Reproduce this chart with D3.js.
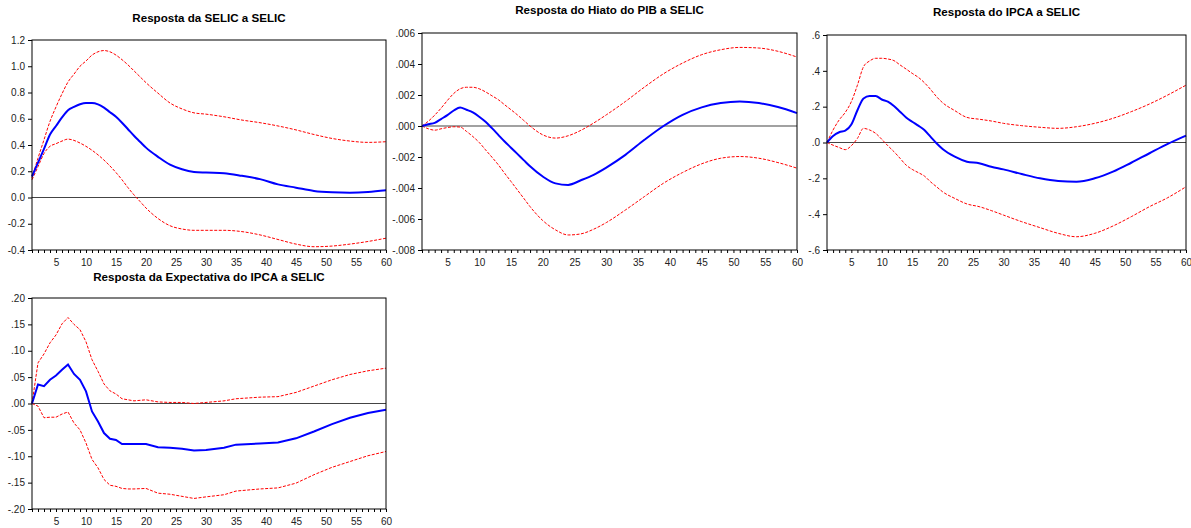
<!DOCTYPE html>
<html>
<head>
<meta charset="utf-8">
<script src="https://cdn.jsdelivr.net/npm/d3@7"></script>
<style>
  body { margin: 0; background: #fff; }
  svg { display: block; font-family: "Liberation Sans", Arial, sans-serif; }
  .axis text { font-size: 10px; fill: #222; }
  .axis path, .axis line { stroke: #000; }
  .title { font-size: 11.6px; font-weight: bold; fill: #000; }
</style>
</head>
<body>
<div id="chart"></div>
<script>
// Resposta ao choque na SELIC (impulso-resposta, 60 periodos)

// SELIC a SELIC
var periodsSelic = [1,2,3,4,5,6,7,8,9,10,11,12,13,14,15,16,17,18,19,20,22,24,26,28,30,33,36,39,42,45,48,51,54,57,60];
var selicResp  = [0.16,0.265,0.37,0.48,0.545,0.61,0.665,0.69,0.71,0.72,0.72,0.71,0.685,0.65,0.615,0.57,0.52,0.47,0.425,0.38,0.31,0.25,0.215,0.195,0.19,0.185,0.165,0.14,0.10,0.075,0.05,0.04,0.037,0.042,0.055];
var selicUpper = [0.15,0.30,0.44,0.58,0.69,0.79,0.88,0.94,1.0,1.04,1.085,1.11,1.12,1.11,1.085,1.05,1.01,0.965,0.92,0.875,0.795,0.72,0.675,0.645,0.635,0.615,0.59,0.57,0.545,0.515,0.48,0.45,0.43,0.42,0.425];
var selicLower = [0.135,0.235,0.335,0.39,0.41,0.43,0.445,0.435,0.415,0.39,0.36,0.325,0.285,0.24,0.19,0.135,0.075,0.02,-0.03,-0.08,-0.16,-0.215,-0.24,-0.25,-0.25,-0.25,-0.26,-0.285,-0.32,-0.355,-0.375,-0.37,-0.355,-0.335,-0.31];
var selicTicks = [-0.4,-0.2,0,0.2,0.4,0.6,0.8,1.0,1.2];

// Hiato do PIB a SELIC
var periodsHiato = [1,2,3,4,5,6,7,8,9,10,11,12,13,14,15,16,17,18,20,22,24,26,28,30,33,36,39,42,45,48,51,54,57,60];
var hiatoResp  = [0,0.00011,0.0002,0.00045,0.0007,0.001,0.0012,0.00105,0.00088,0.0006,0.00027,-0.00014,-0.00057,-0.001,-0.0014,-0.0018,-0.0022,-0.0026,-0.00326,-0.0037,-0.0038,-0.0035,-0.00315,-0.00268,-0.00186,-0.00089,0.0,0.00072,0.0012,0.00148,0.00158,0.00148,0.00122,0.00083];
var hiatoUpper = [0,0.00031,0.0007,0.00115,0.00165,0.0021,0.0024,0.0025,0.0025,0.0024,0.0022,0.00195,0.0017,0.00137,0.00105,0.00072,0.00036,0.0,-0.00057,-0.00078,-0.00063,-0.00028,0.00019,0.00072,0.00158,0.00251,0.00337,0.00406,0.0046,0.00492,0.00507,0.00503,0.00482,0.00445];
var hiatoLower = [0,-0.00018,-0.00027,-0.00018,-0.0001,-0.00005,-0.00007,-0.00035,-0.00068,-0.00106,-0.00154,-0.00201,-0.0025,-0.00305,-0.00358,-0.00412,-0.00466,-0.0052,-0.0061,-0.0067,-0.00703,-0.00696,-0.00666,-0.00623,-0.00542,-0.00455,-0.00369,-0.003,-0.00244,-0.00208,-0.00197,-0.00208,-0.00236,-0.00272];
var hiatoTicks = [-0.008,-0.006,-0.004,-0.002,0,0.002,0.004,0.006];

// IPCA a SELIC
var periodsIpca = [1,2,3,4,5,6,7,8,9,10,11,12,13,14,15,16,17,18,19,20,22,24,26,28,30,33,36,39,42,45,48,51,54,57,60];
var ipcaResp  = [0,0.036,0.057,0.066,0.10,0.18,0.246,0.26,0.26,0.24,0.228,0.204,0.172,0.14,0.116,0.094,0.07,0.033,-0.004,-0.036,-0.079,-0.107,-0.116,-0.135,-0.15,-0.176,-0.2,-0.215,-0.219,-0.2,-0.163,-0.113,-0.06,-0.008,0.038];
var ipcaUpper = [0,0.07,0.126,0.168,0.228,0.32,0.423,0.455,0.47,0.47,0.466,0.457,0.433,0.41,0.386,0.364,0.334,0.297,0.256,0.222,0.178,0.14,0.13,0.12,0.107,0.094,0.085,0.079,0.088,0.107,0.135,0.172,0.215,0.265,0.32];
var ipcaLower = [0,-0.015,-0.028,-0.04,-0.018,0.023,0.079,0.07,0.051,0.018,-0.018,-0.051,-0.088,-0.126,-0.15,-0.168,-0.187,-0.219,-0.247,-0.275,-0.312,-0.343,-0.358,-0.38,-0.405,-0.442,-0.475,-0.507,-0.526,-0.507,-0.466,-0.414,-0.358,-0.308,-0.247];
var ipcaTicks = [-0.6,-0.4,-0.2,0,0.2,0.4,0.6];

// Expectativa do IPCA a SELIC
var periodsExpec = [1,2,3,4,5,6,7,8,9,10,11,12,13,14,15,16,17,18,20,22,24,26,28,30,33,35,39,42,45,48,51,54,57,60];
var expecResp  = [0,0.036,0.033,0.045,0.053,0.064,0.074,0.056,0.045,0.023,-0.015,-0.034,-0.056,-0.067,-0.069,-0.077,-0.077,-0.077,-0.077,-0.083,-0.084,-0.086,-0.089,-0.088,-0.084,-0.078,-0.076,-0.074,-0.066,-0.053,-0.039,-0.027,-0.018,-0.012];
var expecUpper = [0,0.077,0.094,0.115,0.13,0.151,0.163,0.15,0.14,0.117,0.083,0.061,0.037,0.024,0.018,0.009,0.007,0.005,0.007,0.003,0.002,0.002,0.0,0.002,0.005,0.009,0.012,0.013,0.021,0.033,0.045,0.055,0.062,0.067];
var expecLower = [0,-0.005,-0.027,-0.026,-0.026,-0.02,-0.016,-0.037,-0.05,-0.075,-0.106,-0.122,-0.144,-0.155,-0.157,-0.161,-0.162,-0.162,-0.161,-0.17,-0.172,-0.176,-0.18,-0.177,-0.173,-0.166,-0.162,-0.16,-0.151,-0.135,-0.121,-0.11,-0.099,-0.091];
var expecTicks = [-0.20,-0.15,-0.10,-0.05,0,0.05,0.10,0.15,0.20];

var width = 1191, height = 528;

var svg = d3.select("#chart").append("svg")
  .attr("width", width)
  .attr("height", height);

// EViews style labels: "0.0" on the first panel, ".000" on the others
function evFormat(decimals, leadingZero) {
  var f = d3.format("." + decimals + "f");
  return function(d) {
    var s = f(d).replace("−", "-");
    if (!leadingZero) s = s.replace(/^(-?)0\./, "$1.");
    if (/^-\.?0*\.?0+$/.test(s)) s = s.replace("-", "");
    return s;
  };
}

var panels = [
  {title: "Resposta da SELIC a SELIC", box: [32, 40, 386, 250], titleY: 22,
   periods: periodsSelic, resp: selicResp, upper: selicUpper, lower: selicLower,
   ticks: selicTicks, fmt: evFormat(1, true), curve: d3.curveMonotoneX},
  {title: "Resposta do Hiato do PIB a SELIC", box: [422, 33, 797, 250], titleY: 14,
   periods: periodsHiato, resp: hiatoResp, upper: hiatoUpper, lower: hiatoLower,
   ticks: hiatoTicks, fmt: evFormat(3, false), curve: d3.curveMonotoneX},
  {title: "Resposta do IPCA a SELIC", box: [827, 35, 1186, 250], titleY: 16,
   periods: periodsIpca, resp: ipcaResp, upper: ipcaUpper, lower: ipcaLower,
   ticks: ipcaTicks, fmt: evFormat(1, false), curve: d3.curveMonotoneX},
  {title: "Resposta da Expectativa do IPCA a SELIC", box: [32, 298, 386, 509], titleY: 281,
   periods: periodsExpec, resp: expecResp, upper: expecUpper, lower: expecLower,
   ticks: expecTicks, fmt: evFormat(2, false), curve: d3.curveLinear}
];

panels.forEach(function(p) {
  var x0 = p.box[0], y0 = p.box[1], x1 = p.box[2], y1 = p.box[3];

  var x = d3.scaleLinear().domain([1, 60]).range([x0, x1]);
  var y = d3.scaleLinear()
    .domain([p.ticks[0], p.ticks[p.ticks.length - 1]])
    .range([y1, y0]);

  var g = svg.append("g");

  // title
  g.append("text")
    .attr("class", "title")
    .attr("x", (x0 + x1) / 2)
    .attr("y", p.titleY)
    .attr("text-anchor", "middle")
    .text(p.title);

  // zero line
  g.append("line")
    .attr("x1", x0).attr("x2", x1)
    .attr("y1", y(0)).attr("y2", y(0))
    .attr("stroke", "#444")
    .attr("stroke-width", 1.2);

  var line = d3.line()
    .x(function(d) { return x(d[0]); })
    .y(function(d) { return y(d[1]); })
    .curve(p.curve);

  function pairs(vals) {
    return p.periods.map(function(t, i) { return [t, vals[i]]; });
  }

  // confidence bands
  [p.upper, p.lower].forEach(function(band) {
    g.append("path")
      .datum(pairs(band))
      .attr("d", line)
      .attr("fill", "none")
      .attr("stroke", "#ff0000")
      .attr("stroke-width", 1)
      .attr("stroke-dasharray", "3,1.5");
  });

  // response
  g.append("path")
    .datum(pairs(p.resp))
    .attr("d", line)
    .attr("fill", "none")
    .attr("stroke", "#0000ff")
    .attr("stroke-width", 2);

  // axes
  var xAxis = d3.axisBottom(x)
    .tickValues(d3.range(1, 61))
    .tickSize(3)
    .tickPadding(6)
    .tickFormat(function(d) { return d % 5 === 0 ? d : ""; });

  g.append("g")
    .attr("class", "axis")
    .attr("transform", "translate(0," + y1 + ")")
    .call(xAxis)
    .call(function(a) { a.select(".domain").remove(); });

  var yAxis = d3.axisLeft(y)
    .tickValues(p.ticks)
    .tickSize(4)
    .tickPadding(3)
    .tickFormat(p.fmt);

  g.append("g")
    .attr("class", "axis")
    .attr("transform", "translate(" + x0 + ",0)")
    .call(yAxis)
    .call(function(a) { a.select(".domain").remove(); });

  // frame
  g.append("rect")
    .attr("x", x0).attr("y", y0)
    .attr("width", x1 - x0).attr("height", y1 - y0)
    .attr("fill", "none")
    .attr("stroke", "#000")
    .attr("stroke-width", 1);
});
</script>
</body>
</html>
